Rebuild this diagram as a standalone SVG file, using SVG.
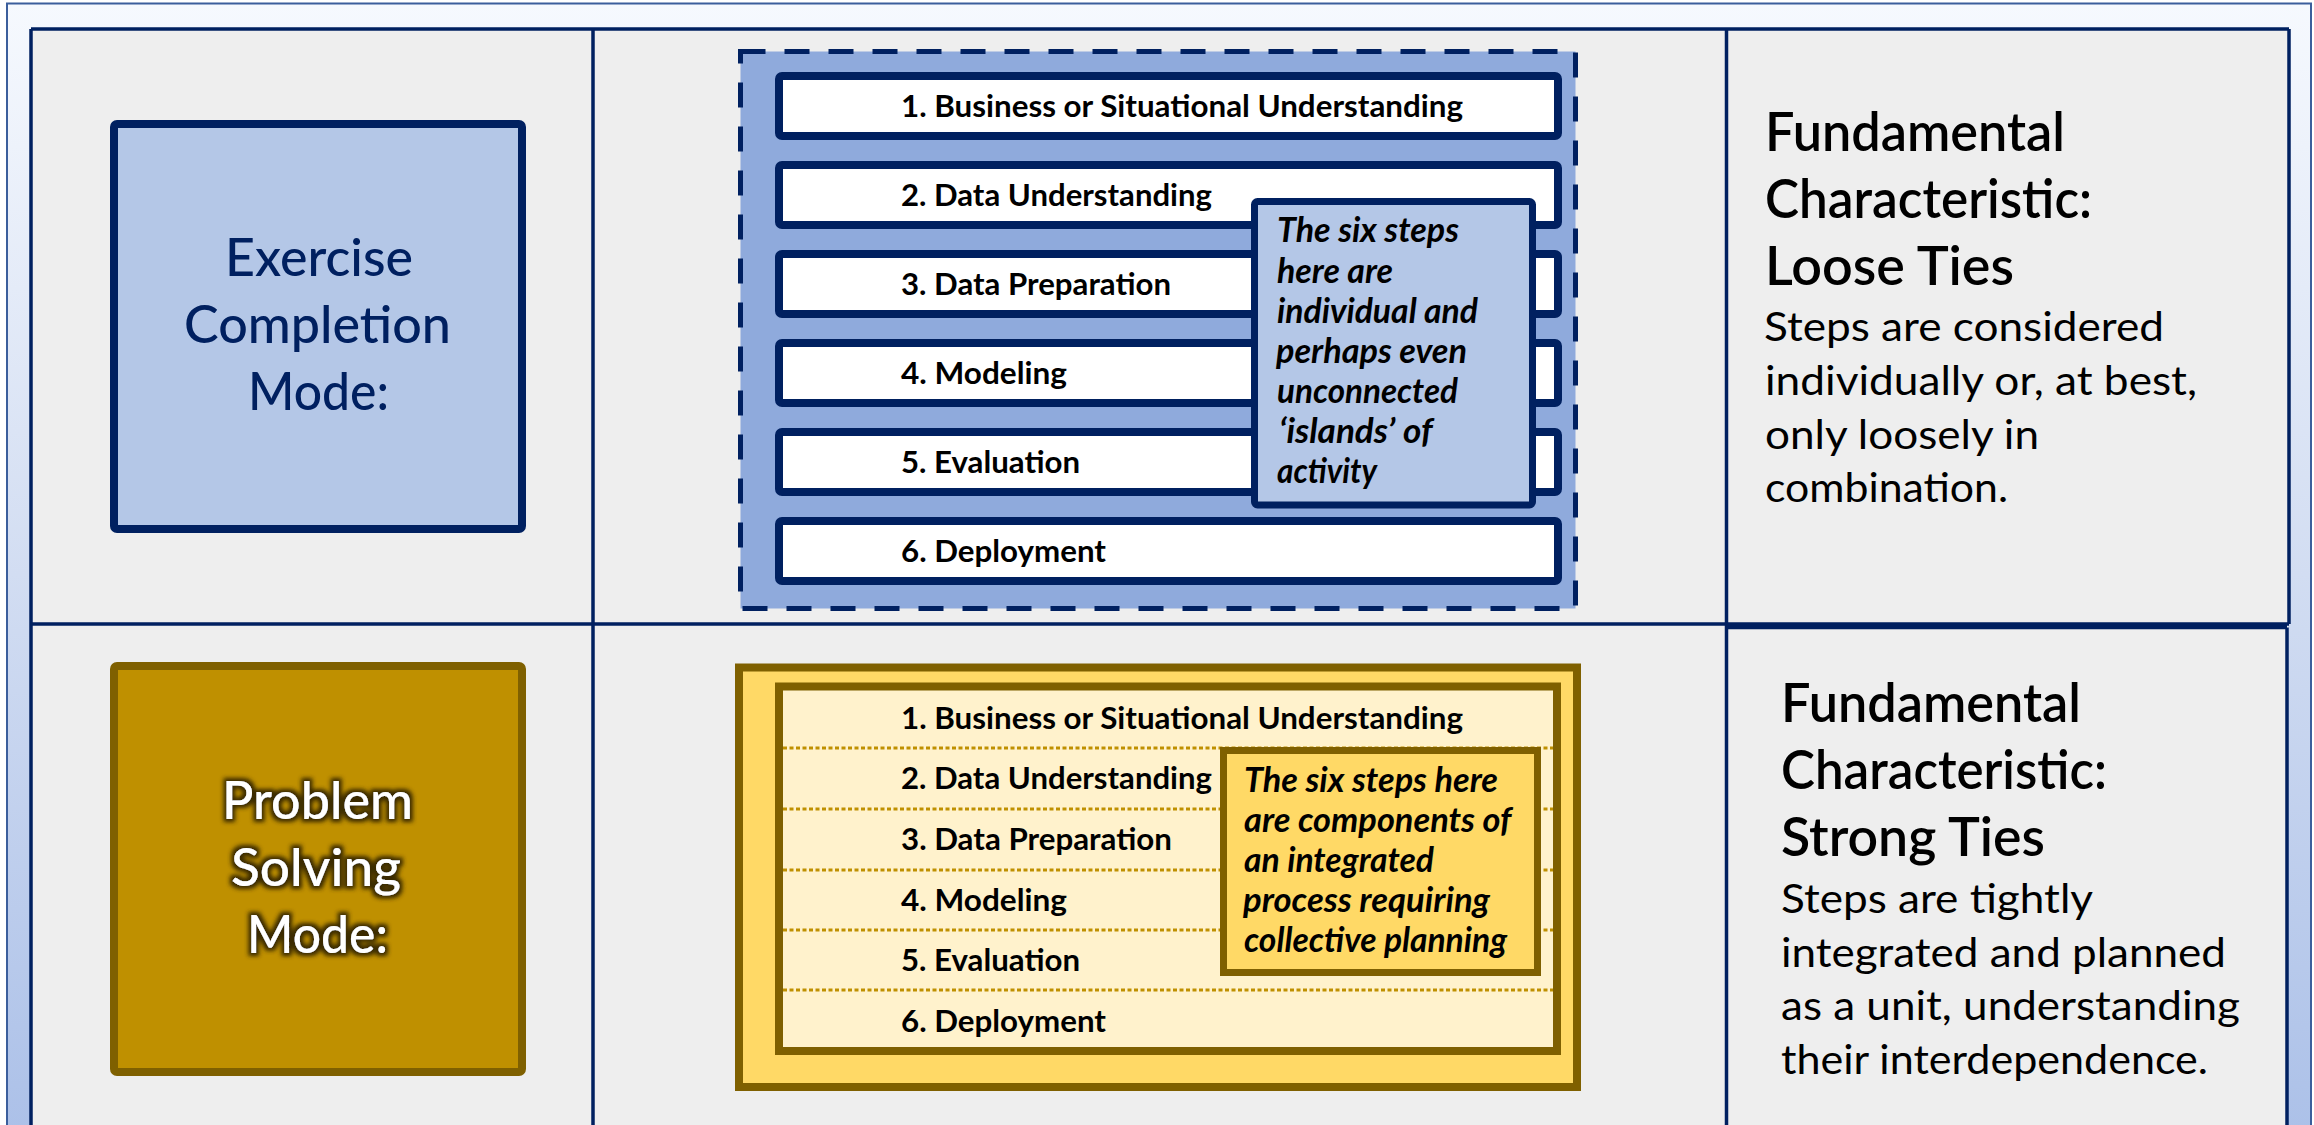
<svg xmlns="http://www.w3.org/2000/svg" width="2314" height="1125" viewBox="0 0 2314 1125">
<defs>
<linearGradient id="frameGrad" x1="0" y1="0" x2="0" y2="1">
<stop offset="0" stop-color="#f6f9fe"/>
<stop offset="0.5" stop-color="#d2ddf2"/>
<stop offset="1" stop-color="#abc0e8"/>
</linearGradient>
<filter id="glow" x="-20%" y="-30%" width="140%" height="160%">
<feMorphology in="SourceAlpha" operator="dilate" radius="2.5" result="d"/>
<feGaussianBlur in="d" stdDeviation="2" result="b"/>
<feFlood flood-color="#3a2a00" flood-opacity="1"/>
<feComposite in2="b" operator="in" result="g"/>
<feMerge><feMergeNode in="g"/><feMergeNode in="SourceGraphic"/></feMerge>
</filter>
<style>
.grid{fill:none;stroke:#002060;stroke-width:3.5}
.mode{font-family:Lato,"Liberation Sans",sans-serif;font-size:52px;font-weight:500}
.step{font-family:Lato,"Liberation Sans",sans-serif;font-size:30px;font-weight:700;fill:#000}
.note{font-family:Lato,"Liberation Sans",sans-serif;font-size:34px;font-weight:700;font-style:italic;fill:#000}
.head{font-family:Lato,"Liberation Sans",sans-serif;font-size:53px;font-weight:600;fill:#000}
.body{font-family:Lato,"Liberation Sans",sans-serif;font-size:40px;font-weight:400;fill:#000}
.sbox{fill:#ffffff;stroke:#002060;stroke-width:8}
.sep{stroke:#bf9000;stroke-width:3;stroke-dasharray:4 2.5}
</style>
</defs>

<g id="frame">
<rect x="7" y="3.5" width="2304" height="1140" fill="url(#frameGrad)" stroke="#3b5e9c" stroke-width="2"/>
</g>

<g id="table">
<rect x="31" y="29" width="2257" height="1110" fill="#eeeeee"/>
<path class="grid" d="M31 29 H2289 M31 29 V1140 M593 29 V1140 M1726.5 29 V1140 M2289 29 V624 M2287 627.5 V1140 M31 624 H1727 M1726 624 H2289 M1726 627.5 H2287"/>
</g>

<g id="connectors"/>

<g id="mode-exercise">
<rect x="114" y="124" width="408" height="405" rx="3" fill="#b4c7e7" stroke="#002060" stroke-width="8"/>
<text class="mode" fill="#002060">
<tspan x="225" y="276" textLength="188" lengthAdjust="spacingAndGlyphs">Exercise</tspan>
<tspan x="184" y="343" textLength="267" lengthAdjust="spacingAndGlyphs">Completion</tspan>
<tspan x="248" y="410" textLength="141" lengthAdjust="spacingAndGlyphs">Mode:</tspan>
</text>
</g>

<g id="mode-problem">
<rect x="114" y="666" width="408" height="406" rx="3" fill="#bf9000" stroke="#7f6000" stroke-width="8"/>
<text class="mode" fill="#ffffff" filter="url(#glow)">
<tspan x="222" y="819" textLength="191" lengthAdjust="spacingAndGlyphs">Problem</tspan>
<tspan x="231" y="886" textLength="170" lengthAdjust="spacingAndGlyphs">Solving</tspan>
<tspan x="247" y="953" textLength="141" lengthAdjust="spacingAndGlyphs">Mode:</tspan>
</text>
</g>

<g id="steps-loose">
<rect x="740.5" y="51.5" width="835" height="557" fill="#8faadc" stroke="#002060" stroke-width="5" stroke-dasharray="25 19"/>
<g id="loose-step-1"><rect class="sbox" x="779" y="76" width="779" height="60" rx="3"/><text class="step" x="901" y="117" textLength="562" lengthAdjust="spacingAndGlyphs">1. Business or Situational Understanding</text></g>
<g id="loose-step-2"><rect class="sbox" x="779" y="165" width="779" height="60" rx="3"/><text class="step" x="901" y="206" textLength="311" lengthAdjust="spacingAndGlyphs">2. Data Understanding</text></g>
<g id="loose-step-3"><rect class="sbox" x="779" y="254" width="779" height="60" rx="3"/><text class="step" x="901" y="295" textLength="270" lengthAdjust="spacingAndGlyphs">3. Data Preparation</text></g>
<g id="loose-step-4"><rect class="sbox" x="779" y="343" width="779" height="60" rx="3"/><text class="step" x="901" y="384" textLength="166" lengthAdjust="spacingAndGlyphs">4. Modeling</text></g>
<g id="loose-step-5"><rect class="sbox" x="779" y="432" width="779" height="60" rx="3"/><text class="step" x="901" y="473" textLength="179" lengthAdjust="spacingAndGlyphs">5. Evaluation</text></g>
<g id="loose-step-6"><rect class="sbox" x="779" y="521" width="779" height="60" rx="3"/><text class="step" x="901" y="562" textLength="205" lengthAdjust="spacingAndGlyphs">6. Deployment</text></g>
</g>

<g id="callout-loose">
<rect x="1254.5" y="201.5" width="278" height="303.5" rx="3" fill="#b4c7e7" stroke="#002060" stroke-width="7"/>
<text class="note">
<tspan x="1277" y="242" textLength="182" lengthAdjust="spacingAndGlyphs">The six steps</tspan>
<tspan x="1277" y="282.5" textLength="116" lengthAdjust="spacingAndGlyphs">here are</tspan>
<tspan x="1277" y="323" textLength="201" lengthAdjust="spacingAndGlyphs">individual and</tspan>
<tspan x="1276" y="363" textLength="191" lengthAdjust="spacingAndGlyphs">perhaps even</tspan>
<tspan x="1277" y="403" textLength="181" lengthAdjust="spacingAndGlyphs">unconnected</tspan>
<tspan x="1279" y="443" textLength="153" lengthAdjust="spacingAndGlyphs">‘islands’ of</tspan>
<tspan x="1277" y="483" textLength="100" lengthAdjust="spacingAndGlyphs">activity</tspan>
</text>
</g>

<g id="char-loose">
<text class="head">
<tspan x="1765" y="151" textLength="300" lengthAdjust="spacingAndGlyphs">Fundamental</tspan>
<tspan x="1765" y="218" textLength="327" lengthAdjust="spacingAndGlyphs">Characteristic:</tspan>
<tspan x="1765" y="285" textLength="249" lengthAdjust="spacingAndGlyphs">Loose Ties</tspan>
</text>
<text class="body">
<tspan x="1764" y="341" textLength="400" lengthAdjust="spacingAndGlyphs">Steps are considered</tspan>
<tspan x="1765" y="395" textLength="432" lengthAdjust="spacingAndGlyphs">individually or, at best,</tspan>
<tspan x="1765" y="449" textLength="274" lengthAdjust="spacingAndGlyphs">only loosely in</tspan>
<tspan x="1765" y="502" textLength="243" lengthAdjust="spacingAndGlyphs">combination.</tspan>
</text>
</g>

<g id="steps-strong">
<rect x="739" y="667.5" width="838" height="419.5" fill="#ffd966" stroke="#7f6000" stroke-width="8"/>
<rect x="779" y="686.5" width="778" height="364.5" fill="#fff2cc" stroke="#7f6000" stroke-width="8"/>
<path class="sep" d="M783 748 H1553 M783 809 H1553 M783 870 H1553 M783 930 H1553 M783 990 H1553"/>
<text class="step" x="901" y="729" textLength="562" lengthAdjust="spacingAndGlyphs">1. Business or Situational Understanding</text>
<text class="step" x="901" y="789" textLength="311" lengthAdjust="spacingAndGlyphs">2. Data Understanding</text>
<text class="step" x="901" y="850" textLength="271" lengthAdjust="spacingAndGlyphs">3. Data Preparation</text>
<text class="step" x="901" y="911" textLength="166" lengthAdjust="spacingAndGlyphs">4. Modeling</text>
<text class="step" x="901" y="971" textLength="179" lengthAdjust="spacingAndGlyphs">5. Evaluation</text>
<text class="step" x="901" y="1032" textLength="205" lengthAdjust="spacingAndGlyphs">6. Deployment</text>
</g>

<g id="callout-strong">
<rect x="1223.5" y="750.5" width="314" height="222" fill="#ffd966" stroke="#7f6000" stroke-width="7"/>
<text class="note">
<tspan x="1244" y="792" textLength="254" lengthAdjust="spacingAndGlyphs">The six steps here</tspan>
<tspan x="1244" y="832" textLength="267" lengthAdjust="spacingAndGlyphs">are components of</tspan>
<tspan x="1244" y="872" textLength="190" lengthAdjust="spacingAndGlyphs">an integrated</tspan>
<tspan x="1243" y="912" textLength="247" lengthAdjust="spacingAndGlyphs">process requiring</tspan>
<tspan x="1244" y="952" textLength="263" lengthAdjust="spacingAndGlyphs">collective planning</tspan>
</text>
</g>

<g id="char-strong">
<text class="head">
<tspan x="1781" y="722" textLength="300" lengthAdjust="spacingAndGlyphs">Fundamental</tspan>
<tspan x="1781" y="789" textLength="326" lengthAdjust="spacingAndGlyphs">Characteristic:</tspan>
<tspan x="1781" y="856" textLength="264" lengthAdjust="spacingAndGlyphs">Strong Ties</tspan>
</text>
<text class="body">
<tspan x="1781" y="913" textLength="311" lengthAdjust="spacingAndGlyphs">Steps are tightly</tspan>
<tspan x="1781" y="967" textLength="445" lengthAdjust="spacingAndGlyphs">integrated and planned</tspan>
<tspan x="1781" y="1020" textLength="459" lengthAdjust="spacingAndGlyphs">as a unit, understanding</tspan>
<tspan x="1781" y="1074" textLength="427" lengthAdjust="spacingAndGlyphs">their interdependence.</tspan>
</text>
</g>
</svg>
